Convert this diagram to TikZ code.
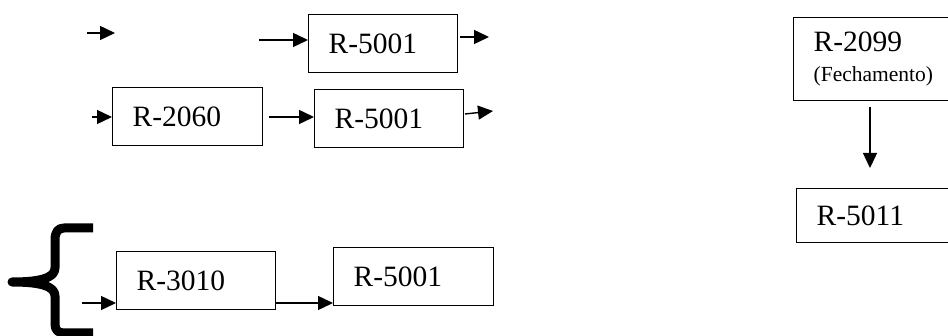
\documentclass[tikz,border=0pt]{standalone}
\usepackage{fontspec}
\setmainfont{Liberation Serif}
\usetikzlibrary{arrows.meta}
\begin{document}
\begin{tikzpicture}[x=1pt,y=-1pt,
  rbox/.style={draw, line width=1.4pt, anchor=north west, minimum height=58pt,
    inner xsep=20pt, inner ysep=0pt, align=left, font=\fontsize{29.5}{32}\selectfont},
  arr/.style={line width=1.4pt, -{Triangle[length=15pt,width=14pt]}},
  bracestyle/.style={line width=9pt, line join=round, line cap=butt}]
\useasboundingbox (0,0) rectangle (948,336);
\clip (0,0) rectangle (948,336);
\fill[white] (0,0) rectangle (948,336);
% boxes
\node[rbox, text width=109pt] (A) at (308,14) {R-5001};
\node[rbox, text width=110pt] (B) at (112,87) {R-2060};
\node[rbox, text width=109pt] (C) at (314,89) {R-5001};
\node[rbox, text width=119pt] (D) at (116,251) {R-3010};
\node[rbox, text width=120pt] (E) at (333,247) {R-5001};
\node[rbox, text width=127pt, minimum height=83pt] (F) at (793,17)
  {R-2099\\[-2pt]{\fontsize{21.5}{24}\selectfont (Fechamento)}};
\node[rbox, text width=124pt, minimum height=54pt] (G) at (796,188) {R-5011};
% free coordinates
\coordinate (a1s) at (87,33);
\coordinate (a1e) at (115,33);
\coordinate (a2s) at (259,40);
\coordinate (a3s) at (460,37);
\coordinate (a3e) at (489,37);
\coordinate (a4s) at (92,117);
\coordinate (a6s) at (465,114);
\coordinate (a6e) at (493,111);
\coordinate (a7s) at (82,303);
\coordinate (a9s) at (870,107);
\coordinate (a9e) at (870,168);
% connectors
\draw[arr] (a1s) -- (a1e);
\draw[arr] (a2s) -- (a2s -| A.west);
\draw[arr] (a3s) -- (a3e);
\draw[arr] (a4s) -- (a4s -| B.west);
\draw[arr, shorten <=6pt] (a4s -| B.east) -- (a4s -| C.west);
\draw[arr] (a6s) -- (a6e);
\draw[arr] (a7s) -- (a7s -| D.west);
\draw[arr] (a7s -| D.east) -- (a7s -| E.west);
\draw[arr] (a9s) -- (a9e);
% brace
\draw[bracestyle] (93,228) -- (64,228) .. controls (58,228) and (55,232) .. (55,240)
  -- (55,268) .. controls (55,278) and (40,282) .. (12,282)
  .. controls (40,282) and (55,286) .. (55,296)
  -- (55,324) .. controls (55,330) and (58,333) .. (64,333) -- (93,333);
\end{tikzpicture}
\end{document}
